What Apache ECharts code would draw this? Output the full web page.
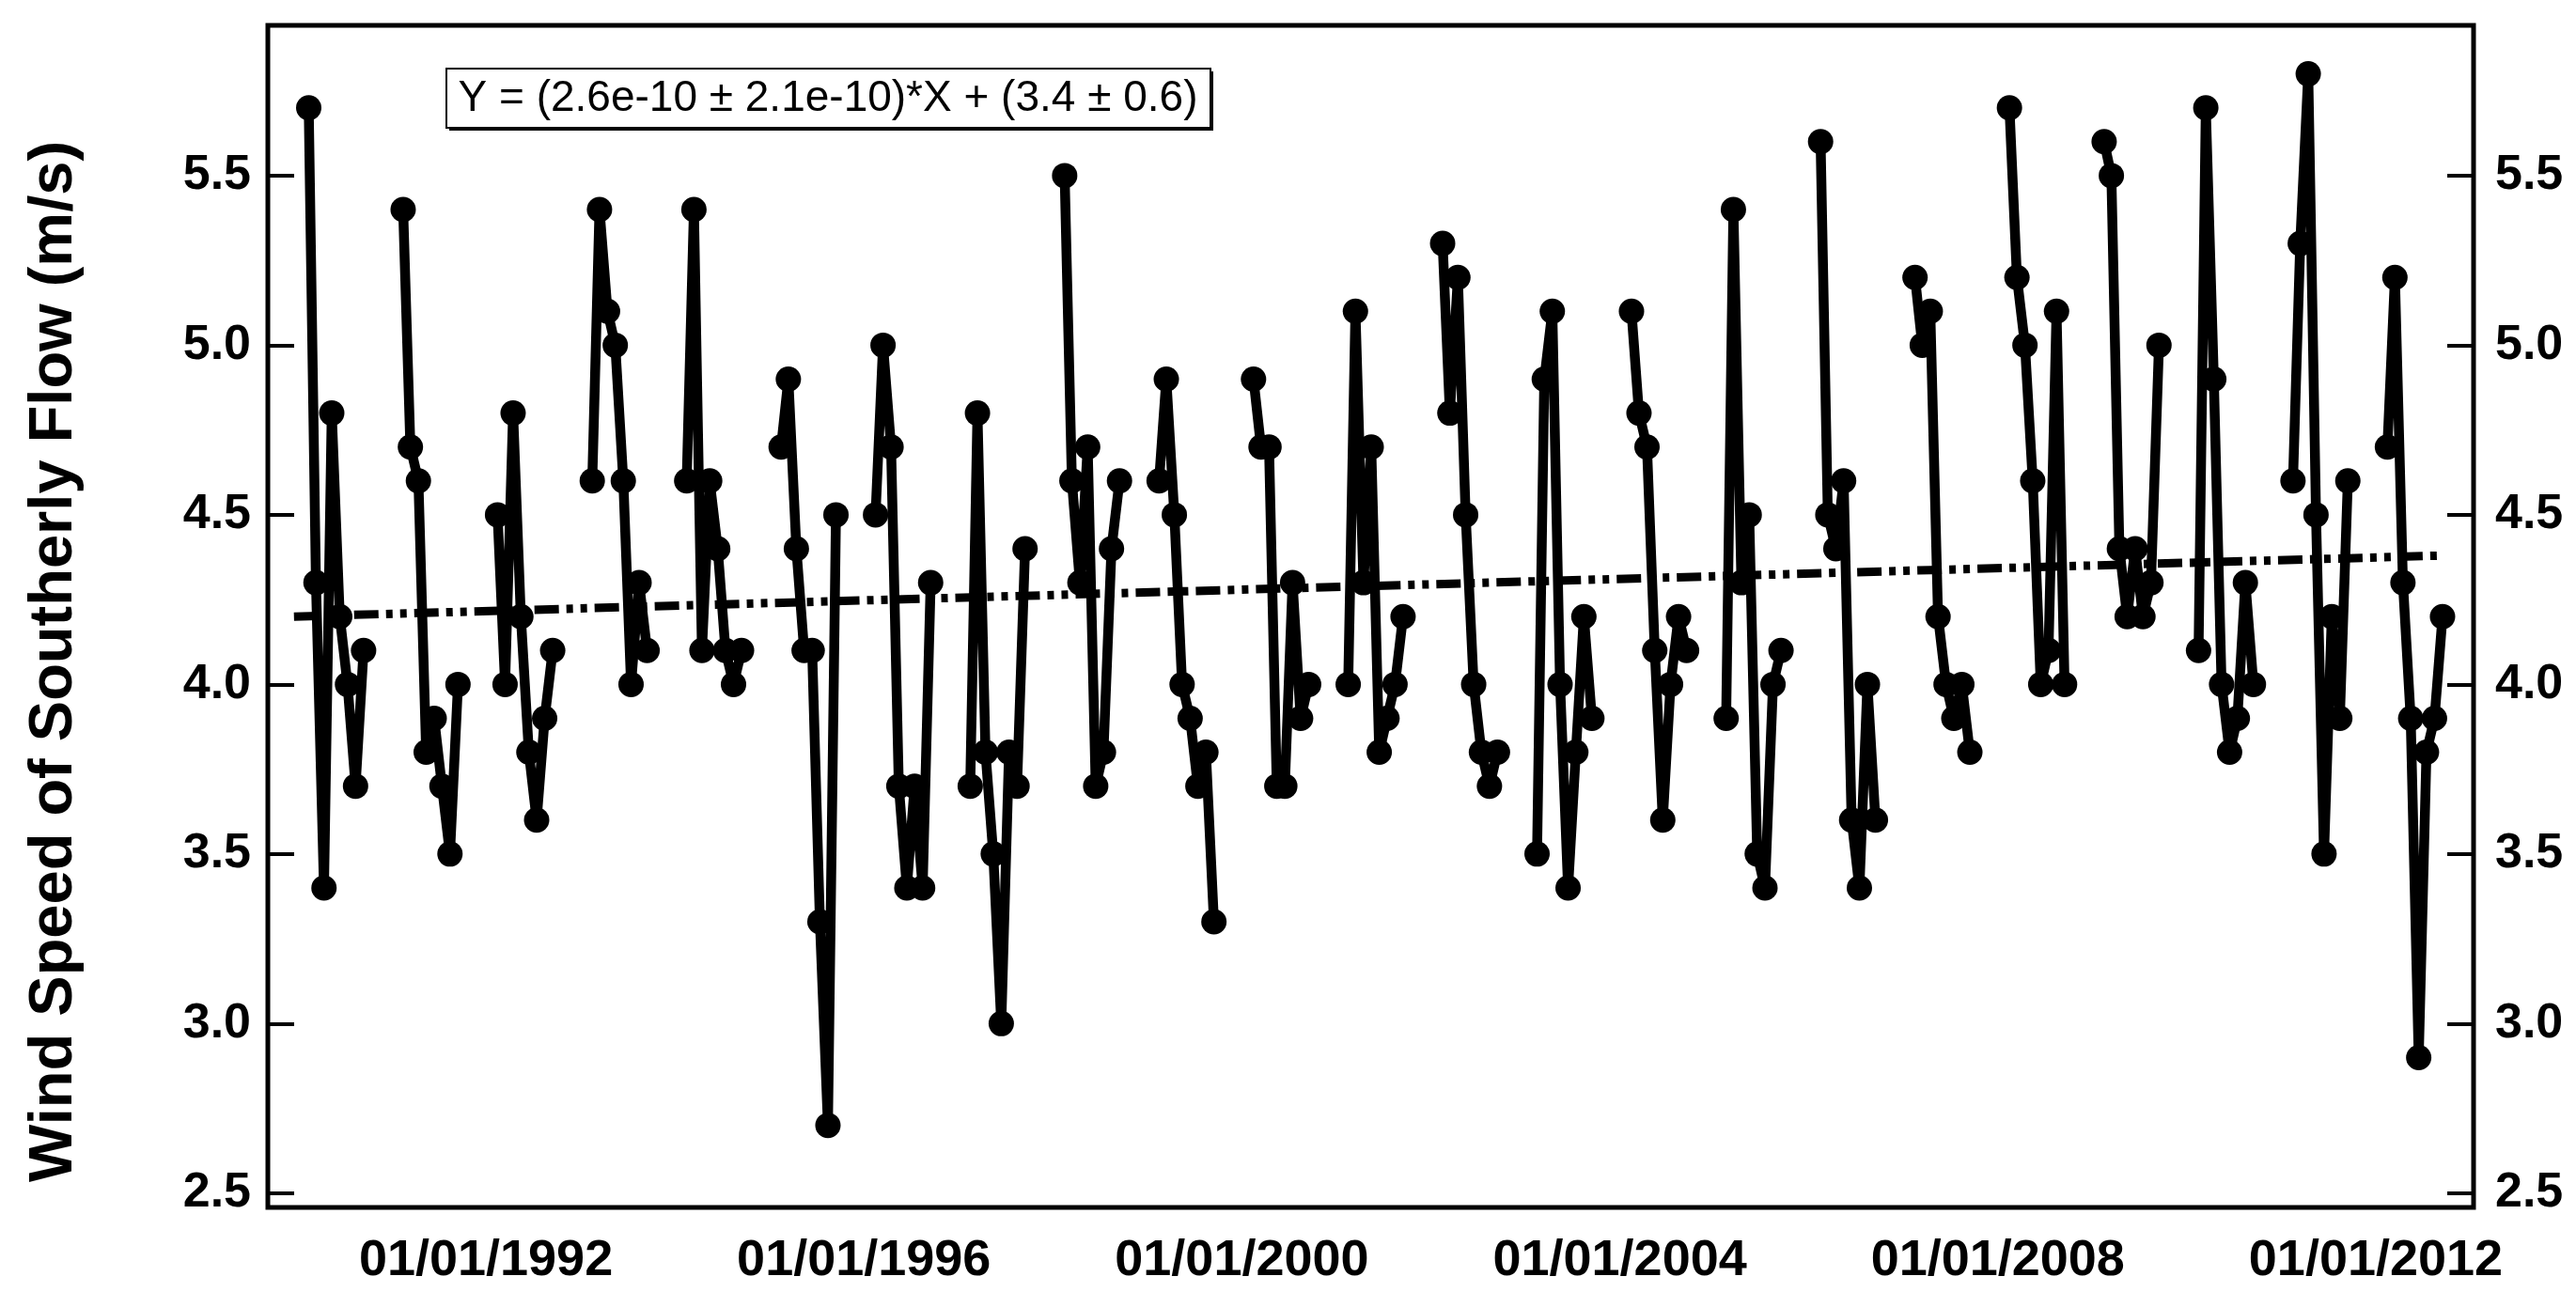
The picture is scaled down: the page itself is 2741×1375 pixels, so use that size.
<!DOCTYPE html>
<html>
<head>
<meta charset="utf-8">
<title>Wind Speed of Southerly Flow</title>
<script src="https://cdn.jsdelivr.net/npm/echarts@6/dist/echarts.min.js"></script>
<style>
  html, body { margin: 0; padding: 0; background: #fff; }
  #chart { width: 2741px; height: 1375px; }
</style>
</head>
<body>
<div id="chart"></div>
<script>
// ---------------- data ----------------
const years = [1990, 1991, 1992, 1993, 1994, 1995, 1996, 1997, 1998, 1999, 2000,
               2001, 2002, 2003, 2004, 2005, 2006, 2007, 2008, 2009, 2010, 2011, 2012];
const months = [2, 3, 4, 5, 6, 7, 8, 9];

const w1990 = [5.7, 4.3, 3.4, 4.8, 4.2, 4.0, 3.7, 4.1];
const w1991 = [5.4, 4.7, 4.6, 3.8, 3.9, 3.7, 3.5, 4.0];
const w1992 = [4.5, 4.0, 4.8, 4.2, 3.8, 3.6, 3.9, 4.1];
const w1993 = [4.6, 5.4, 5.1, 5.0, 4.6, 4.0, 4.3, 4.1];
const w1994 = [4.6, 5.4, 4.1, 4.6, 4.4, 4.1, 4.0, 4.1];
const w1995 = [4.7, 4.9, 4.4, 4.1, 4.1, 3.3, 2.7, 4.5];
const w1996 = [4.5, 5.0, 4.7, 3.7, 3.4, 3.7, 3.4, 4.3];
const w1997 = [3.7, 4.8, 3.8, 3.5, 3.0, 3.8, 3.7, 4.4];
const w1998 = [5.5, 4.6, 4.3, 4.7, 3.7, 3.8, 4.4, 4.6];
const w1999 = [4.6, 4.9, 4.5, 4.0, 3.9, 3.7, 3.8, 3.3];
const w2000 = [4.9, 4.7, 4.7, 3.7, 3.7, 4.3, 3.9, 4.0];
const w2001 = [4.0, 5.1, 4.3, 4.7, 3.8, 3.9, 4.0, 4.2];
const w2002 = [5.3, 4.8, 5.2, 4.5, 4.0, 3.8, 3.7, 3.8];
const w2003 = [3.5, 4.9, 5.1, 4.0, 3.4, 3.8, 4.2, 3.9];
const w2004 = [5.1, 4.8, 4.7, 4.1, 3.6, 4.0, 4.2, 4.1];
const w2005 = [3.9, 5.4, 4.3, 4.5, 3.5, 3.4, 4.0, 4.1];
const w2006 = [5.6, 4.5, 4.4, 4.6, 3.6, 3.4, 4.0, 3.6];
const w2007 = [5.2, 5.0, 5.1, 4.2, 4.0, 3.9, 4.0, 3.8];
const w2008 = [5.7, 5.2, 5.0, 4.6, 4.0, 4.1, 5.1, 4.0];
const w2009 = [5.6, 5.5, 4.4, 4.2, 4.4, 4.2, 4.3, 5.0];
const w2010 = [4.1, 5.7, 4.9, 4.0, 3.8, 3.9, 4.3, 4.0];
const w2011 = [4.6, 5.3, 5.8, 4.5, 3.5, 4.2, 3.9, 4.6];
const w2012 = [4.7, 5.2, 4.3, 3.9, 2.9, 3.8, 3.9, 4.2];

const speedsByYear = [w1990, w1991, w1992, w1993, w1994, w1995, w1996, w1997, w1998, w1999, w2000,
                      w2001, w2002, w2003, w2004, w2005, w2006, w2007, w2008, w2009, w2010, w2011, w2012];

const yTickValues = [2.5, 3.0, 3.5, 4.0, 4.5, 5.0, 5.5];
const xTickYears = [1992, 1996, 2000, 2004, 2008, 2012];
const trendStart = [[1989, 12, 20], 4.20];
const trendEnd = [[2012, 9, 20], 4.38];
const equationText = 'Y = (2.6e-10 \u00B1 2.1e-10)*X + (3.4 \u00B1 0.6)';
const yTitle = 'Wind Speed of Southerly Flow (m/s)';

// ---------------- build ----------------
const ts = (y, m, d) => Date.UTC(y, m - 1, d);
const seriesData = [];
years.forEach((yr, i) => {
  speedsByYear[i].forEach((v, k) => {
    seriesData.push([ts(yr, months[k], 15), v]);
  });
  seriesData.push([ts(yr, 12, 1), null]); // gap between yearly segments
});
const trendData = [trendStart, trendEnd].map(p => [ts(p[0][0], p[0][1], p[0][2]), p[1]]);

const xMin = ts(1989, 9, 10);
const xMax = ts(2013, 1, 13);
const xTicks = xTickYears.map(y => ts(y, 1, 1));
const pad2 = n => (n < 10 ? '0' : '') + n;
const fmtDate = v => { const d = new Date(v); return pad2(d.getUTCMonth() + 1) + '/' + pad2(d.getUTCDate()) + '/' + d.getUTCFullYear(); };

const FONT = '"Liberation Sans", Arial, Helvetica, sans-serif';

const yAxisCommon = {
  type: 'value',
  min: 2.458,
  max: 5.943,
  splitLine: { show: false },
  axisLine: { show: false },
  axisTick: { show: true, inside: true, length: 28, lineStyle: { color: '#000', width: 4 }, customValues: yTickValues },
  axisLabel: {
    show: true, customValues: yTickValues, color: '#000', fontFamily: FONT, fontWeight: 'bold', fontSize: 52,
    formatter: v => Number(v).toFixed(1)
  }
};

const chart = echarts.init(document.getElementById('chart'), null, { renderer: 'canvas' });
chart.setOption({
  animation: false,
  backgroundColor: '#fff',
  grid: { left: 285, right: 109, top: 27, bottom: 90, show: true, borderColor: '#000', borderWidth: 5, backgroundColor: 'transparent' },
  xAxis: [{
    type: 'value',
    min: xMin,
    max: xMax,
    splitLine: { show: false },
    axisLine: { show: false },
    axisTick: { show: false },
    axisLabel: {
      customValues: xTicks, color: '#000', fontFamily: FONT, fontWeight: 'bold', fontSize: 54, margin: 30,
      formatter: v => fmtDate(v), hideOverlap: false
    }
  }],
  yAxis: [
    Object.assign({}, yAxisCommon, { position: 'left', axisLabel: Object.assign({}, yAxisCommon.axisLabel, { margin: 18 }) }),
    Object.assign({}, yAxisCommon, { position: 'right', axisLabel: Object.assign({}, yAxisCommon.axisLabel, { margin: 23 }) })
  ],
  series: [
    {
      name: 'Wind speed',
      type: 'line',
      data: seriesData,
      connectNulls: false,
      symbol: 'circle',
      symbolSize: 27,
      showSymbol: true,
      lineStyle: { color: '#000', width: 10.5, join: 'round' },
      itemStyle: { color: '#000' },
      z: 3
    },
    {
      name: 'Linear fit',
      type: 'line',
      data: trendData,
      symbol: 'none',
      lineStyle: { color: '#000', width: 9, type: [26, 8, 7, 8, 7, 8], cap: 'butt' },
      z: 2
    }
  ],
  graphic: [
    {
      type: 'text',
      x: 58, y: 704,
      rotation: Math.PI / 2,
      style: { text: yTitle, font: 'bold 65px ' + FONT, fill: '#000', textAlign: 'center', textVerticalAlign: 'middle' }
    },
    {
      type: 'rect',
      shape: { x: 478, y: 76, width: 813, height: 63 },
      style: { fill: '#000' },
      z: 10
    },
    {
      type: 'rect',
      shape: { x: 475, y: 73, width: 813, height: 63 },
      style: { fill: '#fff', stroke: '#000', lineWidth: 2 },
      z: 11
    },
    {
      type: 'text',
      x: 881, y: 105,
      style: { text: equationText, font: '46px ' + FONT, fill: '#000', textAlign: 'center', textVerticalAlign: 'middle' },
      z: 12
    }
  ]
});
</script>
</body>
</html>
